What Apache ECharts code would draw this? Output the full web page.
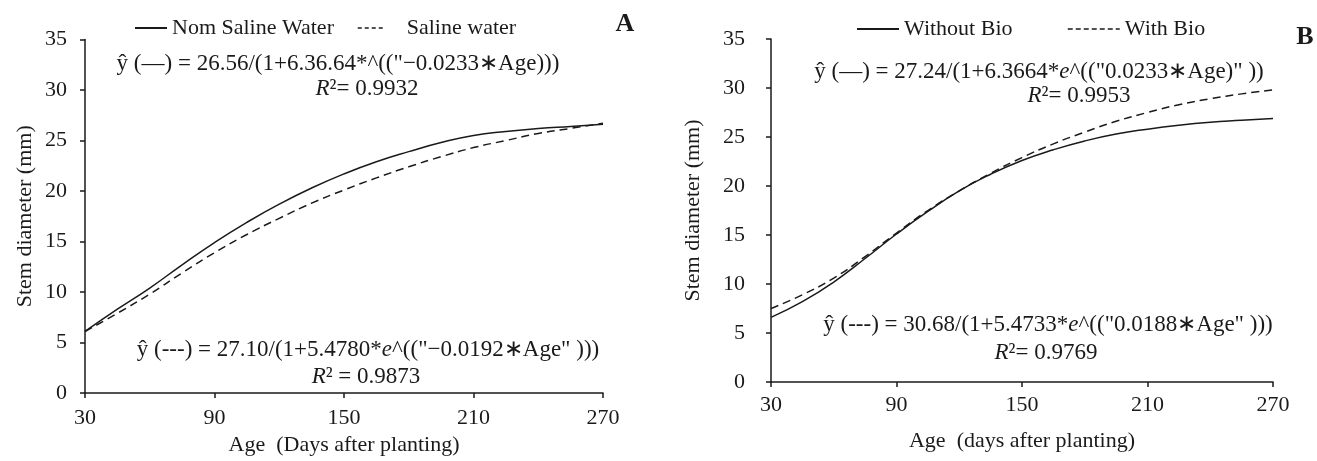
<!DOCTYPE html>
<html>
<head>
<meta charset="utf-8">
<script src="https://cdn.jsdelivr.net/npm/echarts@6/dist/echarts.min.js"></script>
<style>
html,body{margin:0;padding:0;background:#fff;}
#chart{width:1317px;height:461px;}
</style>
</head>
<body>
<div id="chart"></div>
<script>
// ---- data ----
const days = [30,45,60,75,90,105,120,135,150,165,180,195,210,225,240,255,270];
// Panel A
const nonSaline = [6.1,8.3,10.4,12.7,14.9,16.9,18.7,20.3,21.7,22.9,23.9,24.8,25.5,25.9,26.2,26.4,26.6];
const saline    = [6.1,7.9,9.8,11.9,13.9,15.7,17.3,18.8,20.1,21.3,22.4,23.4,24.3,25.0,25.7,26.2,26.7];
// Panel B
const withoutBio = [6.6,8.2,10.2,12.6,15.1,17.4,19.5,21.2,22.6,23.7,24.6,25.3,25.8,26.2,26.5,26.7,26.9];
const withBio    = [7.5,8.9,10.6,12.8,15.2,17.5,19.5,21.3,22.9,24.3,25.5,26.6,27.5,28.3,28.9,29.4,29.8];
const xTicks = [30,90,150,210,270];
const yTicks = [0,5,10,15,20,25,30,35];

const FONT = '"Liberation Serif", "Times New Roman", serif';
const INK = '#1a1a1a';

function pairs(v){ return days.map((d,i)=>[d,v[i]]); }

function xAx(gi, title, gap, margin){
  return {
    type:'value', gridIndex:gi, min:xTicks[0], max:xTicks[xTicks.length-1], interval:60,
    axisLine:{show:true, lineStyle:{color:INK, width:1.5}},
    axisTick:{show:true, length:5, lineStyle:{color:INK, width:1.5}},
    splitLine:{show:false},
    axisLabel:{color:INK, fontFamily:FONT, fontSize:22, margin:margin},
    name:title, nameLocation:'middle', nameGap:gap,
    nameTextStyle:{color:INK, fontFamily:FONT, fontSize:22}
  };
}
function yAx(gi, gap, margin){
  return {
    type:'value', gridIndex:gi, min:yTicks[0], max:yTicks[yTicks.length-1], interval:5,
    axisLine:{show:true, lineStyle:{color:INK, width:1.5}},
    axisTick:{show:true, length:5, lineStyle:{color:INK, width:1.5}},
    splitLine:{show:false},
    axisLabel:{color:INK, fontFamily:FONT, fontSize:22, margin:margin},
    name:'Stem diameter (mm)', nameLocation:'middle', nameGap:gap,
    nameTextStyle:{color:INK, fontFamily:FONT, fontSize:22}
  };
}
function line(name, data, xi, dashed){
  return {
    type:'line', name:name, xAxisIndex:xi, yAxisIndex:xi, data:pairs(data),
    smooth:true, symbol:'none', silent:true,
    lineStyle:{color:INK, width:1.5, type: dashed ? [8,5] : 'solid'},
    itemStyle:{color:INK}
  };
}
function leg(name, left, top, w, padLeft, dash){
  const l = {
    data:[name], left:left, top:top, itemWidth:w, itemHeight:14, selectedMode:false,
    itemStyle:{opacity:0},
    textStyle:{color:INK, fontFamily:FONT, fontSize:22, padding:[0,0,0,padLeft]}
  };
  if (dash) l.lineStyle = {type:dash, width:1.5, color:INK};
  return l;
}
const rich = {
  i:{fontStyle:'italic', fontFamily:FONT, fontSize:23, fill:INK}
};
function txt(t, x, y){
  return {
    type:'text', x:x, y:y, silent:true,
    style:{text:t, font:'23px ' + FONT, fill:INK, textAlign:'center', textVerticalAlign:'middle', rich:rich}
  };
}
function label(t, x, y){
  return {
    type:'text', x:x, y:y, silent:true,
    style:{text:t, font:'bold 26px ' + FONT, fill:INK, textAlign:'center', textVerticalAlign:'middle'}
  };
}

const option = {
  backgroundColor:'#fff',
  animation:false,
  grid:[
    {left:85, top:39.5, width:518, height:355.5},
    {left:771, top:39, width:502, height:343}
  ],
  xAxis:[ xAx(0,'Age  (Days after planting)',40,14), xAx(1,'Age  (days after planting)',48,12) ],
  yAxis:[ yAx(0,49,18), yAx(1,67,26) ],
  legend:[
    leg('Nom Saline Water',129,12,32,0,null),
    leg('Saline water',352,12,26,18,[4,3]),
    leg('Without Bio',851,13,42,0,null),
    leg('With Bio',1062,13,52,0,[5,3])
  ],
  series:[
    line('Nom Saline Water', nonSaline, 0, false),
    line('Saline water', saline, 0, true),
    line('Without Bio', withoutBio, 1, false),
    line('With Bio', withBio, 1, true)
  ],
  graphic:[
    label('A', 625, 24),
    label('B', 1305, 37),
    txt('ŷ (—) = 26.56/(1+6.36.64*^(("−0.0233∗Age)))', 338, 64),
    txt('{i|R}²= 0.9932', 367, 89),
    txt('ŷ (---) = 27.10/(1+5.4780*{i|e}^(("−0.0192∗Age" )))', 368, 350),
    txt('{i|R}² = 0.9873', 366, 377),
    txt('ŷ (—) = 27.24/(1+6.3664*{i|e}^(("0.0233∗Age)" ))', 1039, 72),
    txt('{i|R}²= 0.9953', 1079, 96),
    txt('ŷ (---) = 30.68/(1+5.4733*{i|e}^(("0.0188∗Age" )))', 1048, 325),
    txt('{i|R}²= 0.9769', 1046, 353)
  ]
};
const chart = echarts.init(document.getElementById('chart'), null, {renderer:'canvas'});
chart.setOption(option);
</script>
</body>
</html>
